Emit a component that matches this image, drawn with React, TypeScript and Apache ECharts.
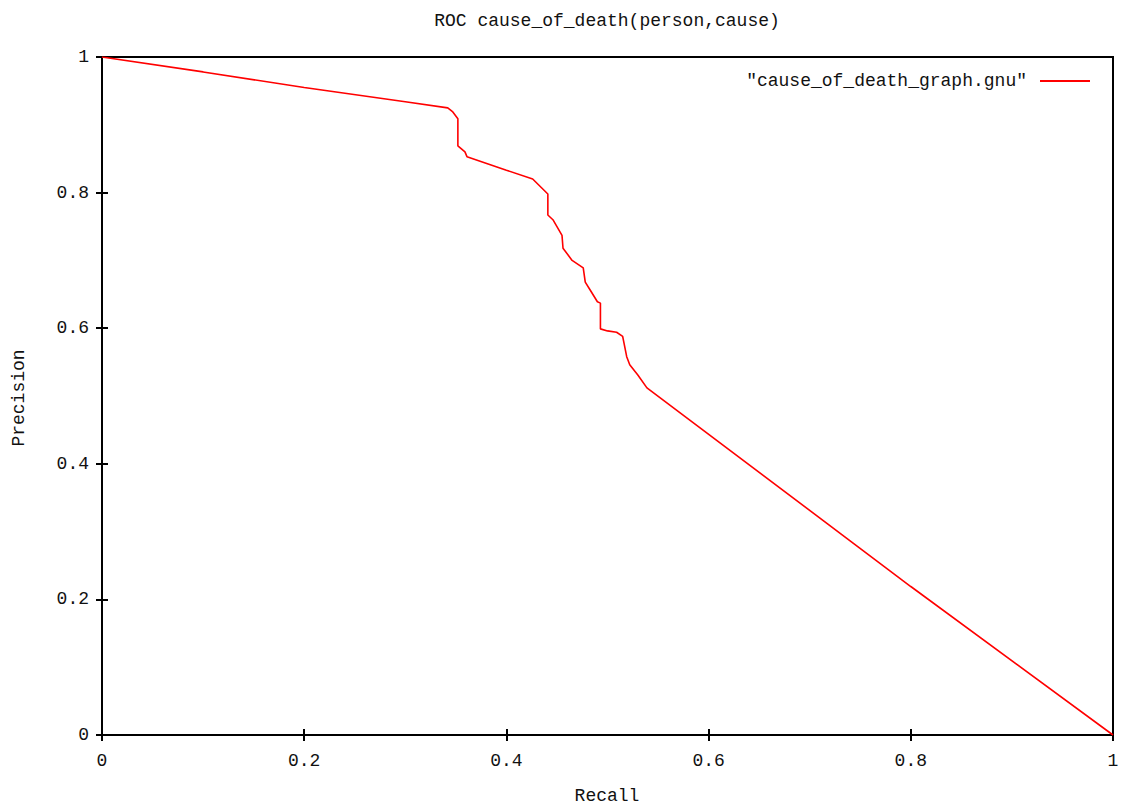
import React, { useEffect, useRef } from "react";
import * as echarts from "echarts";

const recall = [0, 0.1, 0.2, 0.3, 0.342, 0.347, 0.352, 0.352, 0.359, 0.361, 0.4, 0.426, 0.441, 0.441, 0.446, 0.455, 0.456, 0.465, 0.476, 0.478, 0.483, 0.49, 0.493, 0.493, 0.5, 0.509, 0.515, 0.519, 0.522, 0.53, 0.539, 0.8, 1];
const precision = [1, 0.978, 0.955, 0.934, 0.925, 0.919, 0.909, 0.869, 0.86, 0.853, 0.833, 0.82, 0.798, 0.767, 0.76, 0.737, 0.718, 0.7, 0.689, 0.668, 0.656, 0.639, 0.637, 0.599, 0.596, 0.594, 0.588, 0.558, 0.546, 0.531, 0.512, 0.219, 0];
const seriesName = '"cause_of_death_graph.gnu"';
const titleText = "ROC cause_of_death(person,cause)";
const xName = "Recall";
const yName = "Precision";

const FONT = "Liberation Mono";

export default function App() {
  const ref = useRef<HTMLDivElement>(null);
  useEffect(() => {
    if (!ref.current) return;
    const chart = echarts.init(ref.current, null, { renderer: "svg" });
    const data = recall.map((r, i) => [r, precision[i]]);
    const fmt = (v: number) => (v === 0 ? "0" : v === 1 ? "1" : v.toFixed(1));
    const labelStyle = { fontFamily: FONT, fontSize: 18, color: "#111" };
    chart.setOption({
      animation: false,
      backgroundColor: "#fff",
      grid: { left: 102, right: 20, top: 57, bottom: 77, show: true, borderColor: "#000", borderWidth: 2, backgroundColor: "transparent" },
      legend: {
        data: [{ name: seriesName, icon: "rect" }],
        right: 38,
        top: 67,
        align: "right",
        itemWidth: 50,
        itemHeight: 2,
        textStyle: { fontFamily: FONT, fontSize: 18, color: "#111", padding: [0, 8, 0, 0] },
      },
      xAxis: [
        {
          type: "value", min: 0, max: 1, interval: 0.2, position: "bottom",
          axisLine: { show: false },
          axisTick: { show: true, inside: true, length: 6, lineStyle: { color: "#000", width: 2 } },
          axisLabel: { ...labelStyle, margin: 17, formatter: fmt },
          splitLine: { show: false },
        },
        {
          type: "value", min: 0, max: 1, interval: 0.2, position: "top",
          axisLine: { show: false },
          axisTick: { show: true, inside: true, length: 6, lineStyle: { color: "#000", width: 2 } },
          axisLabel: { show: false },
          splitLine: { show: false },
        },
      ],
      yAxis: [
        {
          type: "value", min: 0, max: 1, interval: 0.2, position: "left",
          axisLine: { show: false },
          axisTick: { show: true, inside: true, length: 6, lineStyle: { color: "#000", width: 2 } },
          axisLabel: { ...labelStyle, margin: 13, formatter: fmt },
          splitLine: { show: false },
        },
        {
          type: "value", min: 0, max: 1, interval: 0.2, position: "right",
          axisLine: { show: false },
          axisTick: { show: true, inside: true, length: 6, lineStyle: { color: "#000", width: 2 } },
          axisLabel: { show: false },
          splitLine: { show: false },
        },
      ],
      series: [
        {
          name: seriesName,
          type: "line",
          data,
          showSymbol: false,
          symbol: "none",
          itemStyle: { color: "#ff0000" },
          lineStyle: { color: "#ff0000", width: 1.6 },
        },
      ],
      graphic: [
        { type: "text", x: 607, y: 21, style: { text: titleText, fontFamily: FONT, fontSize: 18, fill: "#111", align: "center", verticalAlign: "middle" } },
        { type: "text", x: 607, y: 796, style: { text: xName, fontFamily: FONT, fontSize: 18, fill: "#111", align: "center", verticalAlign: "middle" } },
        { type: "text", x: 19, y: 398, rotation: Math.PI / 2, style: { text: yName, fontFamily: FONT, fontSize: 18, fill: "#111", align: "center", verticalAlign: "middle" } },
      ],
    });
    return () => chart.dispose();
  }, []);
  return <div ref={ref} style={{ position: "fixed", left: 0, top: 0, width: 1133, height: 812 }} />;
}
